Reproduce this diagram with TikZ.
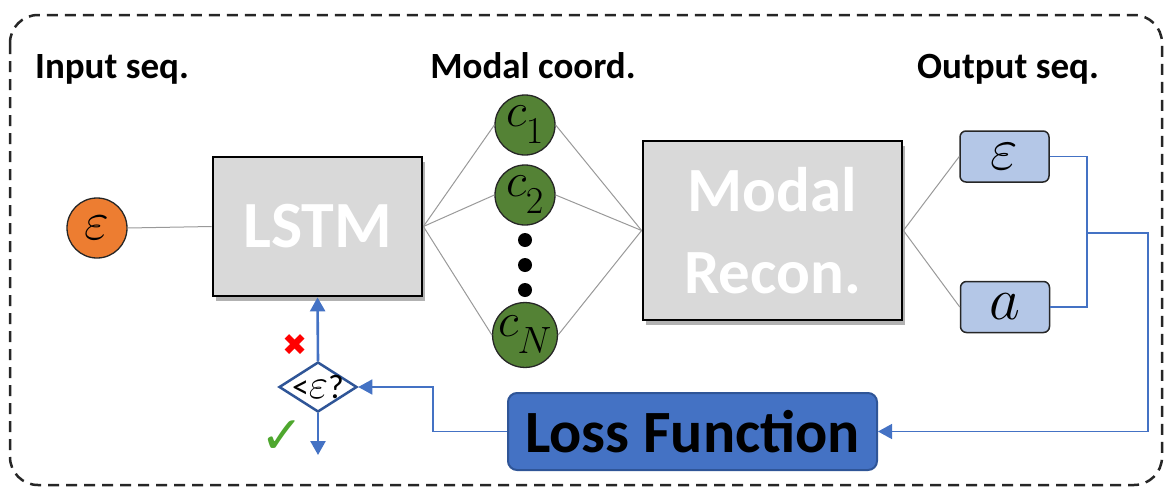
\documentclass[tikz,border=0pt]{standalone}
\usepackage{fix-cm}
\usepackage{fontspec}
\setmainfont{Carlito}
\newfontfamily\symfont{DejaVu Sans}
\usetikzlibrary{shapes.geometric,shadows,arrows.meta}
\definecolor{boxgray}{HTML}{D9D9D9}
\definecolor{orng}{HTML}{ED7D31}
\definecolor{grn}{HTML}{548235}
\definecolor{lblue}{HTML}{B4C7E7}
\definecolor{mblue}{HTML}{4472C4}
\definecolor{dblue}{HTML}{2F5597}
\definecolor{chk}{HTML}{4EA72E}
\newcommand{\csub}[1]{$c$\kern-1pt\raisebox{-17pt}{\fontsize{38}{38}\selectfont$#1$}}
\begin{document}
\begin{tikzpicture}[x=1pt,y=-1pt,
  graybox/.style={draw=black, line width=2.8pt, fill=boxgray, inner sep=0pt,
    drop shadow={shadow xshift=3pt, shadow yshift=-5pt, opacity=0.3, fill=black},
    text=white, font=\bfseries},
  outbox/.style={draw=black!85, line width=1.5pt, fill=lblue, rounded corners=6pt,
    minimum width=89pt, minimum height=51pt, inner sep=0pt, font=\fontsize{60}{60}\selectfont},
  coord/.style={circle, draw=black!85, line width=1.3pt, fill=grn, minimum size=60pt, inner sep=0pt,
    font=\fontsize{48}{48}\selectfont},
  dotn/.style={circle, fill=black, minimum size=14pt, inner sep=0pt},
  title/.style={anchor=base, font=\bfseries\fontsize{37}{37}\selectfont},
  thin/.style={draw=black!40, line width=1pt},
  bl/.style={draw=mblue, line width=1.4pt},
  tip/.style={-{Triangle[length=14pt,width=15pt]}}
]
\useasboundingbox (0,0) rectangle (1167,493);
% border
\draw[line width=2.5pt, dash pattern=on 11pt off 7pt, black!85, rounded corners=28pt]
  (10,15) rectangle (1162,485);
% titles
\node[title] (t1) at (112,78) {Input seq.};
\node[title] (t2) at (533,78) {Modal coord.};
\node[title] (t3) at (1008,78) {Output seq.};
% input
\node[circle, draw=black!85, line width=1.3pt, fill=orng, minimum size=60pt, inner sep=0pt,
  font=\fontsize{54}{54}\selectfont] (in) at (97,228) {$\varepsilon$};
% LSTM
\node[graybox, minimum width=209pt, minimum height=139pt, font=\bfseries\fontsize{66}{66}\selectfont]
  (lstm) at (317.5,226.5) {LSTM};
% modal recon
\node[graybox, minimum width=259pt, minimum height=179pt, align=center,
  font=\bfseries\fontsize{63}{82}\selectfont] (rec) at (772.5,230.5) {Modal\\Recon.};
% coords
\node[coord] (c1) at (525,125) {\csub{1}};
\node[coord] (c2) at (525,195) {\csub{2}};
\node[coord] (cN) at (525,335) {\csub{N}};
\node[dotn] (d1) at (525,240) {};
\node[dotn] (d2) at (525,265) {};
\node[dotn] (d3) at (525,290) {};
% outputs
\node[outbox] (oe) at (1004.5,156.5) {$\varepsilon$};
\node[outbox] (oa) at (1005,307) {$a$};
% loss
\node[draw=dblue, line width=2pt, fill=mblue, rounded corners=9pt, minimum width=369pt,
  minimum height=77pt, inner sep=0pt, font=\bfseries\fontsize{60}{60}\selectfont] (loss) at (692.5,431.5) {Loss Function};
% diamond
\node[diamond, draw=dblue, line width=2.5pt, fill=white, minimum width=78pt, minimum height=50pt,
  inner sep=0pt] (dia) at (318,387) {};
\node[font=\fontsize{34}{34}\selectfont, inner sep=0pt] (diat) at (318,387) {<{\fontsize{42}{42}\selectfont$\varepsilon$}?};
% gray connectors
\draw[thin] (in.east) -- (lstm.west);
\foreach \c in {c1,c2,cN} {
  \draw[thin] (lstm.east) -- (\c.west);
  \draw[thin] (\c.east) -- (rec.west);
}
\draw[thin] (rec.east) -- (oe.west);
\draw[thin] (rec.east) -- (oa.west);
% blue connectors
\coordinate (j) at (1087,233);
\coordinate (r) at (1148,233);
\coordinate (k) at (433,387);
\coordinate (dn) at (318,455);
\draw[bl] (oe.east) -| (j);
\draw[bl] (oa.east) -| (j);
\draw[bl, tip] (j) -- (r) |- (loss.east);
\draw[bl, tip] (loss.west) -| (k) -- (dia.east);
\draw[bl, line width=2.6pt, tip] (dia.north) -- (lstm.south);
\draw[bl, line width=2.6pt, tip] (dia.south) -- (dn);
% marks
\node[text=red, font=\symfont\fontsize{30}{30}\selectfont] (x) at (295,345) {✖};
\node[text=chk, font=\symfont\fontsize{52}{52}\selectfont] (ok) at (282,437) {✓};
\end{tikzpicture}
\end{document}
